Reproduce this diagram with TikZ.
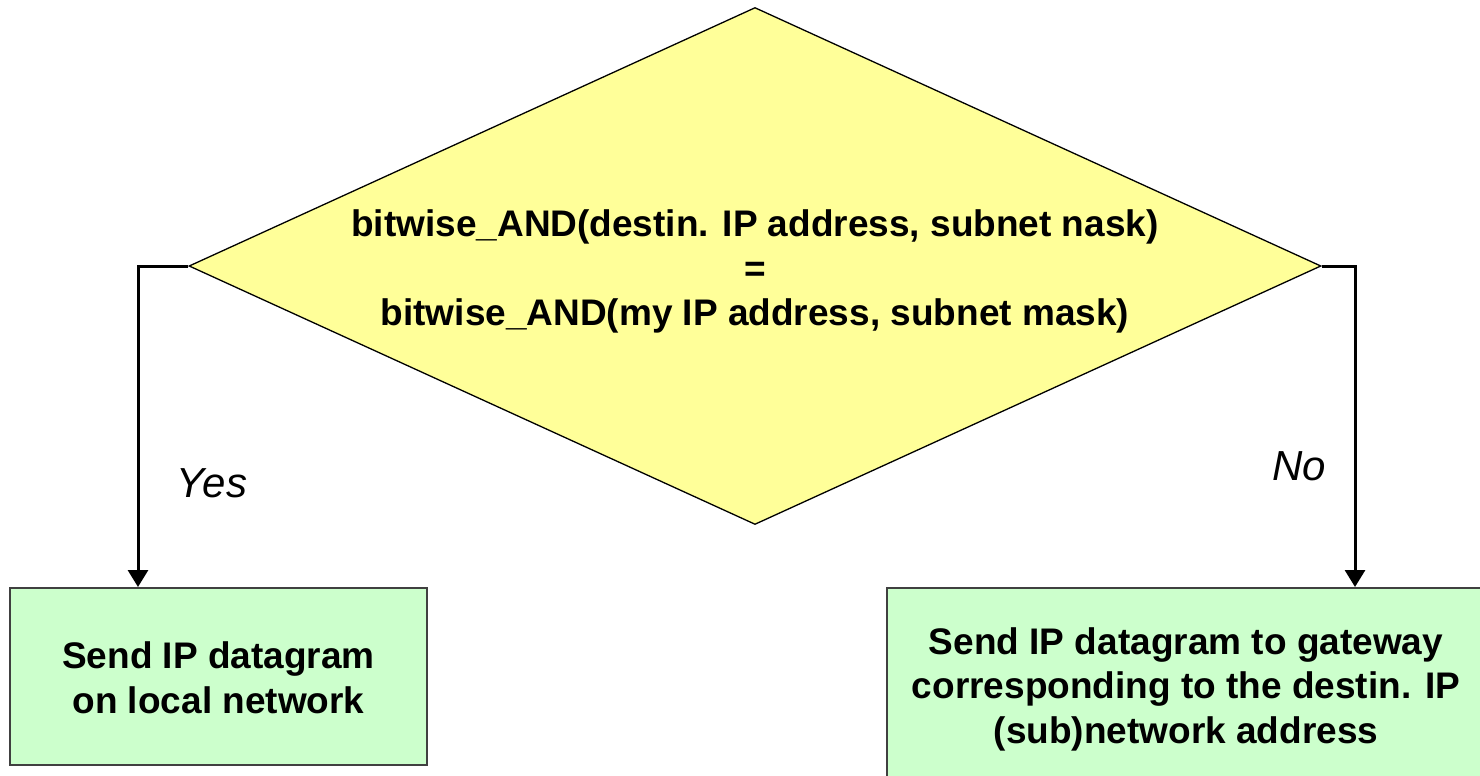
\documentclass[tikz,border=0pt]{standalone}
\usepackage{fontspec}
\setmainfont{Liberation Sans}
\usetikzlibrary{shapes.geometric,arrows.meta}
\definecolor{decyellow}{HTML}{FFFF99}
\definecolor{actgreen}{HTML}{CCFFCC}
\definecolor{boxedge}{HTML}{404040}
\begin{document}
\begin{tikzpicture}[x=1pt,y=-1pt,
  txt/.style={font=\fontsize{37}{44.5}\selectfont\bfseries, align=center},
  decision/.style={diamond, draw=black, line width=1.3pt, fill=decyellow,
    minimum width=1132pt, minimum height=517pt, inner sep=0pt},
  action/.style={draw=boxedge, line width=2pt, fill=actgreen, inner sep=0pt},
  arr/.style={line width=3pt, -{Triangle[width=20pt,length=17pt]}},
  lbl/.style={font=\fontsize{42}{48}\selectfont\itshape}]
  \useasboundingbox (0,0) rectangle (1480,776);
  % decision
  \node[decision] (dec) at (755,266) {};
  \node[txt] (dectext) at (755,271.5) {bitwise\_AND(destin. IP address, subnet nask)\\=\\bitwise\_AND(my IP address, subnet mask)};
  % outcomes
  \node[action, minimum width=417pt, minimum height=177pt] (local) at (218.5,676.5) {};
  \node[txt] (localtext) at (218.5,678) {Send IP datagram\\on local network};
  \node[action, minimum width=600pt, minimum height=210pt] (gw) at (1187,693) {};
  \node[txt] (gwtext) at (1186,689) {Send IP datagram to gateway\\corresponding to the destin. IP\\(sub)network address};
  % connectors
  \draw[arr] (dec.west) -| ([xshift=-80.5pt]local.north);
  \draw[arr] (dec.east) -| ([xshift=168pt]gw.north);
  % branch labels
  \node[lbl] (yes) at (212,483) {Yes};
  \node[lbl] (no) at (1299,466) {No};
\end{tikzpicture}
\end{document}
